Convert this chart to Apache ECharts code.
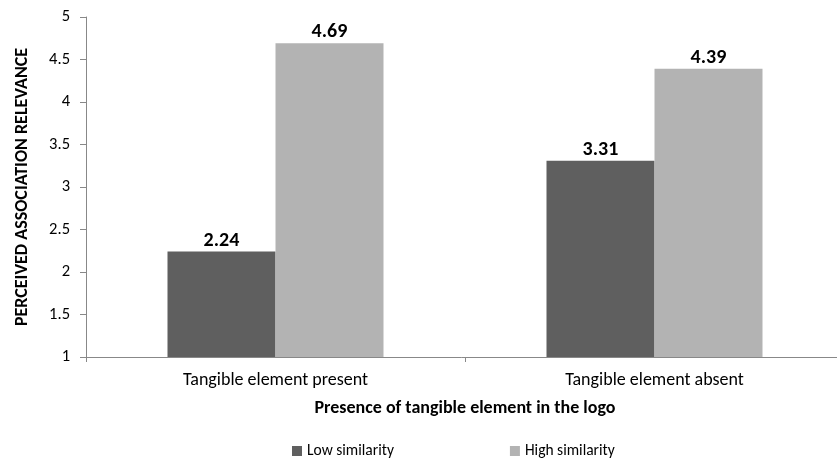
<!DOCTYPE html>
<html><head><meta charset="utf-8">
<script src="https://cdn.jsdelivr.net/npm/echarts@6/dist/echarts.min.js"></script>
<style>html,body{margin:0;padding:0;background:#fff}#c{width:837px;height:459px}</style>
</head><body><div id="c"></div>
<script>
const categories = ["Tangible element present", "Tangible element absent"];
const lowSimilarity = [2.24, 3.31];
const highSimilarity = [4.69, 4.39];
const seriesNames = ["Low similarity", "High similarity"];
const yTicks = { min: 1, max: 5, step: 0.5 };

const FONT = "Carlito, Lato, 'Open Sans', sans-serif";
const chart = echarts.init(document.getElementById('c'));
const labelStyle = { show: true, position: 'top', fontFamily: FONT, fontWeight: 'bold', fontSize: 20, color: '#000', distance: 1 };
chart.setOption({
  animation: false,
  textStyle: { fontFamily: FONT },
  grid: { left: 86, width: 758, top: 17, height: 340, containLabel: false, outerBoundsMode: 'none' },
  legend: {
    top: 438, left: 287, itemWidth: 10, itemHeight: 10, itemGap: 116, icon: 'rect',
    textStyle: { fontFamily: FONT, fontSize: 15.5, color: '#000' },
    data: seriesNames
  },
  xAxis: {
    type: 'category', data: categories,
    name: 'Presence of tangible element in the logo', nameLocation: 'middle', nameGap: 42,
    nameTextStyle: { fontFamily: FONT, fontWeight: 'bold', fontSize: 18, color: '#000', padding: [0, 0, 0, 0] },
    axisLine: { lineStyle: { color: '#888', width: 1 } },
    axisTick: { show: true, length: 5, alignWithLabel: false, lineStyle: { color: '#888' } },
    axisLabel: { fontFamily: FONT, fontSize: 18, color: '#000', margin: 14 }
  },
  yAxis: {
    type: 'value', min: yTicks.min, max: yTicks.max, interval: yTicks.step,
    name: 'PERCEIVED ASSOCIATION RELEVANCE', nameLocation: 'middle', nameGap: 55, nameRotate: 90,
    nameTextStyle: { fontFamily: FONT, fontWeight: 'bold', fontSize: 18, color: '#000' },
    axisLine: { show: true, lineStyle: { color: '#888', width: 1 } },
    axisTick: { show: true, length: 6, lineStyle: { color: '#888' } },
    splitLine: { show: false },
    axisLabel: { fontFamily: FONT, fontSize: 16.5, color: '#000', margin: 16 }
  },
  series: [
    { name: seriesNames[0], type: 'bar', data: lowSimilarity, barWidth: 108, barGap: '0%', itemStyle: { color: '#5f5f5f' }, label: labelStyle },
    { name: seriesNames[1], type: 'bar', data: highSimilarity, barWidth: 108, barGap: '0%', itemStyle: { color: '#b3b3b3' }, label: labelStyle }
  ]
});
</script></body></html>
